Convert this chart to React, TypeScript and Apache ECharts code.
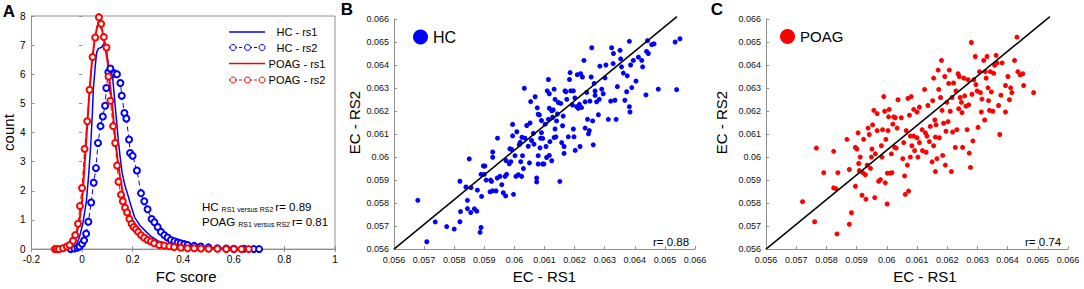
import React, { useEffect, useRef } from "react";
import * as echarts from "echarts";

const FONT = "'Liberation Sans', Arial, Helvetica, sans-serif";
const BLUE = "#0000ff";
const RED = "#ff0000";

// Panel A: FC score distributions [FC score, count]
const hcRs1: number[][] = [
  [-0.056, 0], [-0.042, 0.01], [-0.029, 0.07], [-0.02, 0.2], [-0.01, 0.42], [0.003, 0.87], [0.017, 1.64],
  [0.026, 2.53], [0.034, 3.53], [0.04, 4.53], [0.045, 5.53], [0.052, 6.26], [0.058, 6.76], [0.065, 6.89],
  [0.076, 6.92], [0.085, 7.03], [0.091, 7.09], [0.099, 6.64], [0.105, 6.26], [0.115, 6.2], [0.12, 5.98],
  [0.127, 5.31], [0.135, 4.53], [0.143, 3.76], [0.15, 3.2], [0.158, 2.64], [0.169, 2.2], [0.179, 1.92],
  [0.192, 1.53], [0.208, 1.09], [0.229, 0.81], [0.253, 0.6], [0.27, 0.45], [0.3, 0.28], [0.35, 0.15],
  [0.4, 0.1], [0.45, 0.07], [0.5, 0.05], [0.55, 0.03], [0.6, 0.02], [0.65, 0.01], [0.7, 0],
];
const hcRs2: number[][] = [
  [-0.045, 0], [-0.03, 0.02], [-0.018, 0.05], [-0.01, 0.09], [0.0, 0.18], [0.008, 0.3], [0.016, 0.53],
  [0.025, 0.94], [0.036, 1.6], [0.046, 2.28], [0.055, 2.78], [0.063, 3.64], [0.073, 4.22], [0.082, 4.55],
  [0.091, 4.92], [0.096, 5.53], [0.104, 6.07], [0.112, 6.2], [0.12, 6.0], [0.128, 6.03], [0.138, 6.0],
  [0.1516, 5.7], [0.157, 5.26], [0.1674, 4.67], [0.175, 4.48], [0.1858, 3.76], [0.19, 3.3], [0.2, 3.2],
  [0.217, 2.7], [0.233, 1.92], [0.246, 1.64], [0.259, 1.37], [0.275, 1.03], [0.286, 0.92], [0.299, 0.76],
  [0.312, 0.59], [0.325, 0.48], [0.338, 0.4], [0.351, 0.31], [0.365, 0.27], [0.378, 0.23], [0.39, 0.2],
  [0.404, 0.17], [0.417, 0.14], [0.443, 0.11], [0.469, 0.09], [0.5, 0.06], [0.535, 0.03], [0.57, 0.02],
  [0.6, 0.01], [0.64, 0.01], [0.679, 0], [0.7, 0],
];
const poagRs1: number[][] = [
  [-0.1, 0], [-0.08, 0.01], [-0.06, 0.07], [-0.04, 0.22], [-0.02, 0.59], [-0.01, 1.0], [0, 1.64],
  [0.01, 2.9], [0.02, 4.2], [0.03, 5.5], [0.04, 6.53], [0.05, 7.2], [0.06, 7.64], [0.065, 7.75],
  [0.07, 7.7], [0.08, 7.5], [0.09, 7.0], [0.1, 6.5], [0.11, 5.7], [0.12, 4.87], [0.13, 3.9], [0.14, 3.09],
  [0.15, 2.5], [0.16, 1.98], [0.17, 1.6], [0.18, 1.31], [0.2, 0.98], [0.22, 0.7], [0.24, 0.5],
  [0.27, 0.32], [0.3, 0.2], [0.35, 0.12], [0.4, 0.07], [0.45, 0.05], [0.5, 0.03], [0.55, 0.02],
  [0.6, 0.01], [0.65, 0],
];
const poagRs2: number[][] = [
  [-0.108, 0], [-0.1, 0], [-0.091, 0], [-0.075, 0.03], [-0.06, 0.09], [-0.049, 0.14], [-0.036, 0.29],
  [-0.027, 0.48], [-0.016, 0.87], [-0.0083, 1.48], [0.0, 2.1], [0.01, 3.44], [0.0205, 4.39],
  [0.0297, 5.47], [0.0415, 6.59], [0.052, 7.26], [0.0665, 7.96], [0.0756, 7.73], [0.086, 7.28],
  [0.0966, 6.92], [0.1045, 5.92], [0.112, 5.09], [0.1228, 4.22], [0.131, 3.64], [0.1386, 2.87],
  [0.144, 2.31], [0.154, 1.87], [0.161, 1.64], [0.17, 1.42], [0.178, 1.26], [0.187, 1.03], [0.196, 0.87],
  [0.204, 0.76], [0.213, 0.68], [0.222, 0.59], [0.233, 0.48], [0.246, 0.39], [0.259, 0.31],
  [0.272, 0.26], [0.285, 0.2], [0.305, 0.14], [0.325, 0.12], [0.345, 0.1], [0.364, 0.07], [0.39, 0.05],
  [0.417, 0.03], [0.443, 0.03], [0.47, 0.02], [0.5, 0.01], [0.535, 0.01], [0.57, 0], [0.6, 0],
  [0.63, 0], [0.659, 0],
];

// Panel B: HC EC values [RS1, RS2]
const hcEc: number[][] = [
  [0.05679, 0.05812], [0.05709, 0.05632], [0.05737, 0.05718], [0.05775, 0.05698], [0.058, 0.05687],
  [0.05819, 0.05719], [0.05821, 0.05763], [0.05819, 0.05895], [0.05844, 0.05812], [0.05844, 0.05776],
  [0.05855, 0.05759], [0.05839, 0.0587], [0.05856, 0.05867], [0.0585, 0.05992], [0.05867, 0.05775],
  [0.05875, 0.05765], [0.05877, 0.05856], [0.05886, 0.05673], [0.05889, 0.05694], [0.05891, 0.05829],
  [0.05889, 0.05925], [0.05897, 0.05961], [0.05902, 0.05961], [0.05906, 0.059], [0.059, 0.05925],
  [0.05921, 0.059], [0.05919, 0.05849], [0.05924, 0.05894], [0.05928, 0.05853], [0.05928, 0.06022],
  [0.05928, 0.05999], [0.05939, 0.05853], [0.05943, 0.05909], [0.05944, 0.06082], [0.05952, 0.05916],
  [0.05958, 0.0588], [0.05963, 0.05845], [0.05971, 0.05831], [0.05969, 0.05916], [0.05974, 0.05925],
  [0.05972, 0.05985], [0.05983, 0.05971], [0.05985, 0.06036], [0.05988, 0.0598], [0.05991, 0.06033],
  [0.05994, 0.06142], [0.05994, 0.06092], [0.05997, 0.05838], [0.06002, 0.06006], [0.06005, 0.05916],
  [0.06008, 0.0611], [0.06013, 0.05923], [0.06016, 0.06054], [0.06019, 0.06064], [0.06021, 0.0598],
  [0.06024, 0.05916], [0.06025, 0.06086], [0.06027, 0.06006], [0.0603, 0.0595], [0.06033, 0.06299],
  [0.06035, 0.06082], [0.06041, 0.06137], [0.06046, 0.06047], [0.0605, 0.05975], [0.06052, 0.06148],
  [0.06054, 0.06241], [0.06057, 0.06072], [0.06063, 0.06103], [0.06065, 0.06056], [0.06069, 0.06262],
  [0.06074, 0.05909], [0.06074, 0.05892], [0.06076, 0.06214], [0.06079, 0.06186], [0.06083, 0.06183],
  [0.06079, 0.06006], [0.06085, 0.0604], [0.06087, 0.06082], [0.0609, 0.06159], [0.06094, 0.0597],
  [0.06079, 0.0597], [0.0609, 0.06106],
  [0.06094, 0.06081], [0.06105, 0.06046], [0.06107, 0.05998], [0.06098, 0.0597], [0.06116, 0.06007],
  [0.06124, 0.05984], [0.06132, 0.06085], [0.06102, 0.06143], [0.06113, 0.06164], [0.06118, 0.06067],
  [0.06109, 0.06288], [0.06113, 0.06337], [0.06116, 0.06275], [0.06116, 0.06212], [0.06124, 0.06201],
  [0.06127, 0.06173], [0.06129, 0.06205], [0.06132, 0.06295], [0.06135, 0.06251], [0.06135, 0.06122],
  [0.06138, 0.06088], [0.0614, 0.06157], [0.06143, 0.06187], [0.06146, 0.06237], [0.06151, 0.05894],
  [0.06154, 0.06233], [0.06157, 0.06063], [0.0616, 0.06136], [0.06162, 0.06178], [0.06165, 0.06016],
  [0.06165, 0.06046], [0.06168, 0.06288], [0.06171, 0.06284], [0.06174, 0.06251], [0.06179, 0.06088],
  [0.06183, 0.06337], [0.06185, 0.06367], [0.06187, 0.06288], [0.06193, 0.06226], [0.06196, 0.06288],
  [0.06196, 0.06122], [0.06198, 0.06088], [0.06201, 0.06257], [0.06202, 0.06029], [0.06207, 0.06219],
  [0.06209, 0.06358], [0.06212, 0.06212], [0.06216, 0.06229], [0.06218, 0.06046], [0.0622, 0.06362],
  [0.06223, 0.06215], [0.06226, 0.06348], [0.06231, 0.0642], [0.06235, 0.0624], [0.06235, 0.06126],
  [0.0624, 0.06281], [0.06243, 0.06164], [0.06246, 0.06101], [0.06249, 0.06115], [0.06251, 0.06243],
  [0.06255, 0.06348], [0.06257, 0.06475], [0.0626, 0.06157], [0.06262, 0.06053], [0.06265, 0.0632],
  [0.06268, 0.06268], [0.06268, 0.06287], [0.06273, 0.0624], [0.06279, 0.06184], [0.06282, 0.06251],
  [0.06284, 0.06395], [0.0629, 0.06295], [0.06295, 0.06275], [0.06301, 0.06344], [0.06304, 0.064],
  [0.06312, 0.06164], [0.0632, 0.06243], [0.06323, 0.06475], [0.06328, 0.06406], [0.06329, 0.0645],
  [0.06334, 0.06247], [0.06338, 0.06164], [0.06342, 0.06306], [0.06351, 0.06464], [0.06353, 0.06427],
  [0.06356, 0.06392], [0.06362, 0.06365], [0.06367, 0.06247], [0.06373, 0.06284], [0.06375, 0.06353],
  [0.06382, 0.06503], [0.06382, 0.06219], [0.06384, 0.06196], [0.06386, 0.064], [0.0639, 0.06302],
  [0.06395, 0.0642], [0.06404, 0.0633], [0.06412, 0.06434], [0.06423, 0.0642], [0.06426, 0.06392],
  [0.06437, 0.0627], [0.06439, 0.06459], [0.06442, 0.06506], [0.06445, 0.0645], [0.06456, 0.06489],
  [0.06464, 0.06492], [0.06478, 0.06295], [0.06534, 0.065], [0.06539, 0.06293], [0.0655, 0.06514],
];

// Panel C: POAG EC values [RS1, RS2]
const poagEc: number[][] = [
  [0.05721, 0.05806], [0.05761, 0.05719], [0.05767, 0.06039], [0.05791, 0.05932], [0.05824, 0.06025],
  [0.05824, 0.05866], [0.05832, 0.05862], [0.05835, 0.05666], [0.05838, 0.05932], [0.05868, 0.06077],
  [0.05876, 0.05946], [0.05876, 0.05708], [0.05883, 0.05758], [0.05896, 0.06042], [0.05896, 0.05873],
  [0.05901, 0.06035], [0.05905, 0.06105], [0.05907, 0.05972], [0.05909, 0.05941], [0.05912, 0.06],
  [0.05918, 0.05834], [0.0592, 0.05932], [0.05923, 0.06077], [0.05929, 0.05923], [0.05931, 0.05817],
  [0.05935, 0.05965], [0.05938, 0.06126], [0.05942, 0.06098], [0.05946, 0.05951], [0.05949, 0.06],
  [0.05951, 0.06035], [0.05953, 0.0614], [0.05957, 0.06203], [0.0596, 0.05824], [0.05962, 0.06014],
  [0.05968, 0.06189], [0.05968, 0.06115], [0.05973, 0.05895], [0.05979, 0.05902], [0.05982, 0.06049],
  [0.05984, 0.06], [0.05986, 0.06119], [0.0599, 0.06263], [0.05993, 0.06199], [0.05995, 0.05888],
  [0.05997, 0.06077], [0.06001, 0.05796], [0.06002, 0.0593], [0.06004, 0.06115], [0.06006, 0.06175],
  [0.06008, 0.06207], [0.06012, 0.0593], [0.06015, 0.06014], [0.06017, 0.05932], [0.0602, 0.06143],
  [0.06023, 0.06175], [0.06026, 0.06042], [0.06028, 0.06171], [0.06031, 0.06039], [0.06034, 0.06126],
  [0.06037, 0.06249], [0.06048, 0.06171], [0.06053, 0.05993], [0.06056, 0.06063], [0.06059, 0.05918],
  [0.06061, 0.05838], [0.06064, 0.06115], [0.06068, 0.05965], [0.0607, 0.06255], [0.06072, 0.05852],
  [0.06075, 0.06182], [0.06078, 0.06091], [0.06078, 0.06], [0.06081, 0.06263], [0.06083, 0.06049],
  [0.06089, 0.06207], [0.06089, 0.06091], [0.06092, 0.06028],
  [0.061, 0.06196], [0.061, 0.06084], [0.06103, 0.06], [0.06108, 0.06063], [0.06108, 0.06217],
  [0.06117, 0.06119], [0.06118, 0.06028], [0.06125, 0.06294], [0.06128, 0.06105], [0.0613, 0.06021],
  [0.06133, 0.06091], [0.06136, 0.06224], [0.06141, 0.06067], [0.06144, 0.06133], [0.0615, 0.05979],
  [0.06152, 0.06245], [0.06155, 0.06343], [0.06155, 0.06049], [0.06159, 0.06161], [0.06161, 0.06087],
  [0.06161, 0.05937], [0.06163, 0.0614], [0.06166, 0.05993], [0.0617, 0.06378], [0.06172, 0.06294],
  [0.06174, 0.06084], [0.06178, 0.06259], [0.06181, 0.0642], [0.06183, 0.06203], [0.06185, 0.06007],
  [0.06188, 0.06147], [0.06192, 0.0635], [0.06194, 0.05965], [0.06196, 0.06112], [0.06199, 0.06238],
  [0.06203, 0.06154], [0.06205, 0.0632], [0.06207, 0.06378], [0.0621, 0.06199], [0.06214, 0.05937],
  [0.06216, 0.06259], [0.06218, 0.06109], [0.06221, 0.06322], [0.06227, 0.06042], [0.06229, 0.06287],
  [0.06232, 0.06119], [0.06236, 0.06362], [0.06238, 0.0621], [0.0624, 0.0635], [0.06243, 0.06259],
  [0.06247, 0.06238], [0.06249, 0.06193], [0.06251, 0.06042], [0.06255, 0.06343], [0.06258, 0.06266],
  [0.06262, 0.06221], [0.06266, 0.06119], [0.06269, 0.06336], [0.06271, 0.06227], [0.06273, 0.06017],
  [0.06277, 0.05955], [0.0628, 0.06498], [0.06282, 0.06273], [0.06285, 0.0607], [0.06288, 0.06336],
  [0.06293, 0.06437], [0.06295, 0.06315], [0.06299, 0.06287], [0.06302, 0.06129], [0.06307, 0.06371],
  [0.0631, 0.0628], [0.06313, 0.06196], [0.06315, 0.06252], [0.06321, 0.0642], [0.06324, 0.06161],
  [0.06326, 0.06371], [0.06329, 0.06343], [0.06332, 0.06437], [0.06335, 0.06301], [0.06337, 0.06245],
  [0.0634, 0.06203], [0.06343, 0.06371], [0.06346, 0.06283], [0.06351, 0.06199], [0.06354, 0.06364],
  [0.06357, 0.06399], [0.06362, 0.06442], [0.06365, 0.06409], [0.0637, 0.06224], [0.06374, 0.06098],
  [0.06378, 0.06269], [0.06382, 0.06409], [0.06393, 0.06311], [0.06393, 0.06196], [0.06401, 0.0635],
  [0.06406, 0.06249], [0.0641, 0.06301], [0.06414, 0.0628], [0.06423, 0.0642], [0.06431, 0.06521],
  [0.06434, 0.06371], [0.06442, 0.06357], [0.0645, 0.06362], [0.06453, 0.06311], [0.06486, 0.0628],
];

// Reference line (RS1 vs RS2)
const refLine: number[][] = [[0.056, 0.056], [0.0654, 0.0661]];

const fcRange = { min: -0.2, max: 1, interval: 0.2 };
const countRange = { min: 0, max: 8, interval: 1 };
const ecRange = { min: 0.056, max: 0.066, interval: 0.001 };

const legendLabels = ["HC - rs1", "HC - rs2", "POAG - rs1", "POAG - rs2"];
const rHcBetween = "0.89";
const rPoagBetween = "0.81";
const rHc = "0.88";
const rPoag = "0.74";

export default function App() {
  const ref = useRef<HTMLDivElement>(null);
  useEffect(() => {
    if (!ref.current) return;
    const chart = echarts.init(ref.current, undefined, { renderer: "svg" });
    const gray = "#8f8f8f";
    const labelA = { fontSize: 10, color: "#000", fontFamily: FONT };
    const labelEc = { fontSize: 9, color: "#111", fontFamily: FONT };
    const nameStyle = (padding: number[]) => ({ fontSize: 15, color: "#000", fontFamily: FONT, padding });

    const mainX = (gridIndex: number, range: any, label: any, name: string, gap: number, pad: number[], margin: number) => ({
      type: "value", gridIndex, ...range, position: "bottom",
      axisLine: { show: true, onZero: false, lineStyle: { color: gray, width: 1 } },
      axisTick: { show: true, inside: true, length: 3, lineStyle: { color: gray } },
      axisLabel: { ...label, margin },
      splitLine: { show: false },
      name, nameLocation: "middle", nameGap: gap, nameTextStyle: nameStyle(pad),
    });
    const mainY = (gridIndex: number, range: any, label: any, name: string, gap: number, pad: number[], margin: number) => ({
      type: "value", gridIndex, ...range, position: "left",
      axisLine: { show: true, onZero: false, lineStyle: { color: gray, width: 1 } },
      axisTick: { show: true, inside: true, length: 3, lineStyle: { color: gray } },
      axisLabel: { ...label, margin },
      splitLine: { show: false },
      name, nameLocation: "middle", nameGap: gap, nameRotate: 90, nameTextStyle: nameStyle(pad),
    });

    // Panel A legend (drawn as graphic keys)
    const legendRows = [32, 47.5, 63.5, 80];
    const legendColors = [BLUE, BLUE, RED, RED];
    const legendGraphics: any[] = [];
    legendLabels.forEach((label, i) => {
      const y = legendRows[i];
      const c = legendColors[i];
      const dashed = i % 2 === 1;
      legendGraphics.push({
        type: "line", shape: { x1: 229, y1: y, x2: 265, y2: y },
        style: { stroke: c, lineWidth: dashed ? 1 : 1.5, lineDash: dashed ? [3, 2] : null },
      });
      if (dashed) {
        [233, 247.5, 262].forEach((cx) => {
          legendGraphics.push({
            type: "circle", shape: { cx, cy: y, r: 3 },
            style: { fill: "#fff", stroke: c, lineWidth: 1 },
          });
        });
      }
      legendGraphics.push({
        type: "text", x: 297, y,
        style: { text: label, fill: "#000", font: `11px ${FONT}`, align: "center", verticalAlign: "middle", textAlign: "center", textVerticalAlign: "middle" },
      });
    });

    const option: any = {
      animation: false,
      textStyle: { fontFamily: FONT },
      grid: [
        { left: 30, top: 16, width: 305, height: 241, show: true, borderColor: gray, borderWidth: 1, backgroundColor: "transparent" },
        { left: 394, top: 19, width: 301, height: 240 },
        { left: 766, top: 19, width: 302, height: 238 },
      ],
      xAxis: [
        mainX(0, fcRange, labelA, "FC score", 15, [0, 0, 0, 6], 5),
        {
          type: "value", gridIndex: 0, ...fcRange, position: "top",
          axisLine: { show: false }, axisLabel: { show: false }, splitLine: { show: false },
          axisTick: { show: true, inside: true, length: 3, lineStyle: { color: gray } },
        },
        mainX(1, ecRange, labelEc, "EC - RS1", 15, [0, 0, 0, 0], 6),
        mainX(2, ecRange, labelEc, "EC - RS1", 17, [0, 0, 0, 16], 6),
      ],
      yAxis: [
        mainY(0, countRange, labelA, "count", 15, [0, 0, 0, 0], 6),
        {
          type: "value", gridIndex: 0, ...countRange, position: "right",
          axisLine: { show: false }, axisLabel: { show: false }, splitLine: { show: false },
          axisTick: { show: true, inside: true, length: 3, lineStyle: { color: gray } },
        },
        mainY(1, ecRange, labelEc, "EC - RS2", 32, [0, 0, 0, 23], 5),
        mainY(2, ecRange, labelEc, "EC - RS2", 37, [0, 0, 0, 23], 5),
      ],
      legend: [
        {
          data: [{ name: "HC", icon: "circle" }], left: 408, top: 24, itemWidth: 15, itemHeight: 15,
          textStyle: { fontSize: 16, color: "#000", fontFamily: FONT },
        },
        {
          data: [{ name: "POAG", icon: "circle" }], left: 775, top: 24, itemWidth: 15, itemHeight: 15,
          textStyle: { fontSize: 15, color: "#000", fontFamily: FONT },
        },
      ],
      series: [
        {
          name: "HC - rs1", type: "line", xAxisIndex: 0, yAxisIndex: 0, data: hcRs1,
          symbol: "none", lineStyle: { color: BLUE, width: 1.5 }, itemStyle: { color: BLUE },
        },
        {
          name: "HC - rs2", type: "line", xAxisIndex: 0, yAxisIndex: 0, data: hcRs2,
          symbol: "emptyCircle", symbolSize: 6, showSymbol: true,
          lineStyle: { color: BLUE, width: 1, type: [5, 3] },
          itemStyle: { color: BLUE, borderColor: BLUE, borderWidth: 1 },
        },
        {
          name: "POAG - rs1", type: "line", xAxisIndex: 0, yAxisIndex: 0, data: poagRs1,
          symbol: "none", lineStyle: { color: RED, width: 2 }, itemStyle: { color: RED },
        },
        {
          name: "POAG - rs2", type: "line", xAxisIndex: 0, yAxisIndex: 0, data: poagRs2,
          symbol: "emptyCircle", symbolSize: 6, showSymbol: true,
          lineStyle: { color: RED, width: 1, type: [5, 3] },
          itemStyle: { color: RED, borderColor: RED, borderWidth: 1 },
        },
        {
          name: "HC", type: "scatter", xAxisIndex: 2, yAxisIndex: 2, data: hcEc,
          symbolSize: 5, itemStyle: { color: BLUE, opacity: 1 },
        },
        {
          name: "HC reference", type: "line", xAxisIndex: 2, yAxisIndex: 2, data: refLine, clip: false,
          symbol: "none", lineStyle: { color: "#000", width: 1.5 },
        },
        {
          name: "POAG", type: "scatter", xAxisIndex: 3, yAxisIndex: 3, data: poagEc,
          symbolSize: 5, itemStyle: { color: RED, opacity: 1 },
        },
        {
          name: "POAG reference", type: "line", xAxisIndex: 3, yAxisIndex: 3, data: refLine, clip: false,
          symbol: "none", lineStyle: { color: "#000", width: 1.5 },
        },
      ],
      graphic: [
        ...legendGraphics,
        { type: "text", x: 9, y: 11, style: { text: "A", fill: "#000", font: `bold 17px ${FONT}`, align: "center", verticalAlign: "middle", textAlign: "center", textVerticalAlign: "middle" } },
        { type: "text", x: 347, y: 9.5, style: { text: "B", fill: "#000", font: `bold 17px ${FONT}`, align: "center", verticalAlign: "middle", textAlign: "center", textVerticalAlign: "middle" } },
        { type: "text", x: 717, y: 9.5, style: { text: "C", fill: "#000", font: `bold 17px ${FONT}`, align: "center", verticalAlign: "middle", textAlign: "center", textVerticalAlign: "middle" } },
        {
          type: "text", x: 202, y: 207,
          style: {
            text: `{a|HC}{b|RS1 versus RS2}{a|r= ${rHcBetween}}`, align: "left", verticalAlign: "middle", textAlign: "left", textVerticalAlign: "middle",
            rich: {
              a: { fontSize: 11.5, fill: "#000", fontFamily: FONT },
              b: { fontSize: 7, fill: "#000", fontFamily: FONT, padding: [3, 2, 0, 3], verticalAlign: "bottom" },
            },
          },
        },
        {
          type: "text", x: 202, y: 222,
          style: {
            text: `{a|POAG}{b|RS1 versus RS2}{a|r= ${rPoagBetween}}`, align: "left", verticalAlign: "middle", textAlign: "left", textVerticalAlign: "middle",
            rich: {
              a: { fontSize: 11.5, fill: "#000", fontFamily: FONT },
              b: { fontSize: 7, fill: "#000", fontFamily: FONT, padding: [3, 2, 0, 3], verticalAlign: "bottom" },
            },
          },
        },
        { type: "text", x: 653, y: 242, style: { text: `r= ${rHc}`, fill: "#000", font: `11.5px ${FONT}`, align: "left", verticalAlign: "middle", textAlign: "left", textVerticalAlign: "middle" } },
        { type: "text", x: 1025, y: 242, style: { text: `r= ${rPoag}`, fill: "#000", font: `11.5px ${FONT}`, align: "left", verticalAlign: "middle", textAlign: "left", textVerticalAlign: "middle" } },
      ],
    };
    chart.setOption(option);
    return () => chart.dispose();
  }, []);
  return (
    <div
      ref={ref}
      style={{ position: "absolute", left: 0, top: 0, width: 1084, height: 289, background: "#fff" }}
    />
  );
}
